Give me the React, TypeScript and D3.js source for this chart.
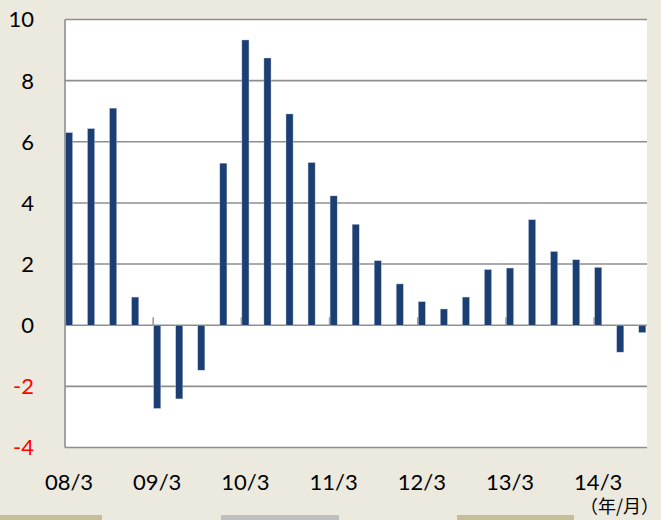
import React from 'react';
import * as d3 from 'd3';

// 四半期ごとのカテゴリ（年/月）
const categories = [
  '08/3', '08/6', '08/9', '08/12',
  '09/3', '09/6', '09/9', '09/12',
  '10/3', '10/6', '10/9', '10/12',
  '11/3', '11/6', '11/9', '11/12',
  '12/3', '12/6', '12/9', '12/12',
  '13/3', '13/6', '13/9', '13/12',
  '14/3', '14/6', '14/9',
];

const values = [
  6.30, 6.43, 7.10, 0.92,
  -2.72, -2.41, -1.47, 5.30,
  9.33, 8.74, 6.91, 5.32,
  4.23, 3.30, 2.11, 1.35,
  0.77, 0.53, 0.92, 1.82,
  1.87, 3.45, 2.41, 2.14,
  1.89, -0.88, -0.24,
];

const yTicks = [-4, -2, 0, 2, 4, 6, 8, 10];
const xLabels = ['08/3', '09/3', '10/3', '11/3', '12/3', '13/3', '14/3'];

const W = 661;
const H = 520;
const left = 65;
const right = 647;
const top = 19.5;
const bottom = 447.5;
const step = 22.05;

const font = 'Lato, "Noto Sans", sans-serif';

export default function App() {
  const x = d3.scaleBand<string>()
    .domain(categories)
    .range([left, left + step * categories.length])
    .paddingInner(0)
    .paddingOuter(0);

  const y = d3.scaleLinear().domain([-4, 10]).range([bottom, top]);
  const barW = x.bandwidth() * 0.32;

  // 年ごとの目盛り（カテゴリ境界）
  const tickCats = xLabels.slice(1);

  return (
    <svg width={W} height={H} style={{ position: 'fixed', left: 0, top: 0, display: 'block' }}>
      <rect x={0} y={0} width={W} height={H} fill="#ECE9DF" />
      <defs>
        <clipPath id="plot">
          <rect x={left} y={top - 2} width={right - left} height={bottom - top + 4} />
        </clipPath>
      </defs>
      <rect x={left} y={top} width={right - left} height={bottom - top} fill="#ffffff" />

      {/* グリッド線 */}
      {yTicks.map(t => (
        <line key={t} x1={left} x2={right} y1={y(t)} y2={y(t)} stroke="#8e8e8e" strokeWidth={1.6} />
      ))}
      <line x1={left} x2={left} y1={top} y2={bottom} stroke="#8e8e8e" strokeWidth={1.6} />

      {/* 目盛り */}
      {tickCats.map(c => (
        <line key={c} x1={x(c)!} x2={x(c)!} y1={y(0) - 8} y2={y(0)} stroke="#9a9a9a" strokeWidth={1.6} />
      ))}

      {/* 棒 */}
      <g clipPath="url(#plot)">
        {categories.map((c, i) => {
          const v = values[i];
          const y0 = y(0);
          const y1 = y(v);
          return (
            <rect key={c} x={x(c)! + 0.5} y={Math.min(y0, y1)} width={barW} height={Math.abs(y1 - y0)}
              fill="#1c3f73" stroke="#b9c7dc" strokeWidth={0.4} />
          );
        })}
      </g>

      {/* Y軸ラベル */}
      {yTicks.map(t => (
        <text key={t} x={34} y={y(t)} dy="0.36em" textAnchor="end" fontFamily={font} fontSize={22}
          fill={t < 0 ? '#ff0000' : '#000000'}>{t}</text>
      ))}

      {/* X軸ラベル */}
      {xLabels.map(c => (
        <text key={c} x={x(c)! + 0.5 + barW / 2} y={490} textAnchor="middle" fontFamily={font} fontSize={22} fill="#000">
          {c}
        </text>
      ))}
      <text x={659} y={513} textAnchor="end" fontFamily='"Noto Sans CJK JP", sans-serif' fontSize={18} fill="#000">（年/月）</text>

      {/* 下部の飾り */}
      <rect x={0} y={515} width={102} height={5} fill="#C6BE98" />
      <rect x={221} y={515} width={118} height={5} fill="#BFBFBF" />
      <rect x={457} y={515} width={117} height={5} fill="#C6BE98" />
    </svg>
  );
}
